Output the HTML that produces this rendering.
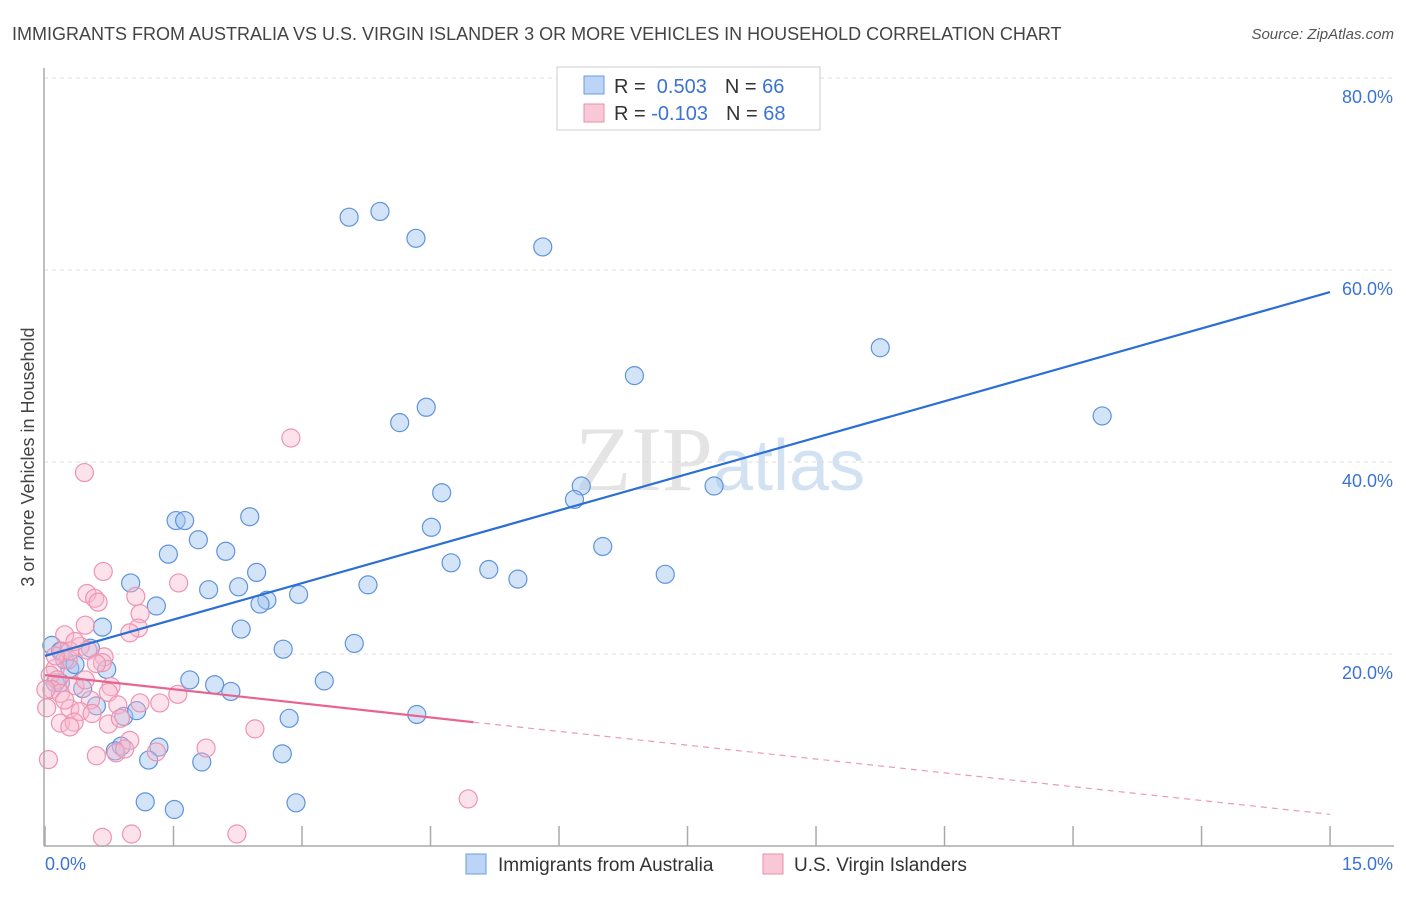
<!DOCTYPE html>
<html><head><meta charset="utf-8"><style>
body{margin:0;background:#fff;font-family:"Liberation Sans",sans-serif}
</style></head><body>
<svg id="chart" width="1406" height="892" xmlns="http://www.w3.org/2000/svg" font-family="Liberation Sans, sans-serif">
<text x="12" y="40" font-size="18" fill="#444">IMMIGRANTS FROM AUSTRALIA VS U.S. VIRGIN ISLANDER 3 OR MORE VEHICLES IN HOUSEHOLD CORRELATION CHART</text>
<text x="1394" y="39" font-size="15" fill="#555" font-style="italic" text-anchor="end">Source: ZipAtlas.com</text>
<text x="720" y="490" font-size="92" text-anchor="middle" fill="#e4e4e4" font-family="Liberation Serif, serif">ZIP<tspan fill="#d3e2f2" font-family="Liberation Sans, sans-serif" font-size="72">atlas</tspan></text>
<text transform="translate(34,457) rotate(-90)" font-size="18" fill="#444" text-anchor="middle">3 or more Vehicles in Household</text>
<g id="grid"></g><g id="pts"></g><g id="lines"></g>
<line x1="44" y1="68" x2="44" y2="846" stroke="#aaa" stroke-width="1.5"/>
<line x1="44" y1="846" x2="1394" y2="846" stroke="#aaa" stroke-width="1.5"/>
<text x="45" y="870" font-size="18" fill="#3b73d4">0.0%</text>
<text x="1393" y="870" font-size="18" fill="#3b73d4" text-anchor="end">15.0%</text>
<g>
<rect x="557" y="67" width="263" height="63" fill="#fff" stroke="#ccc"/>
<rect x="584" y="76" width="20" height="18" fill="#bcd4f5" stroke="#6e9be0"/>
<rect x="584" y="104" width="20" height="18" fill="#f9c8d6" stroke="#eb8fac"/>
<text x="614" y="93" font-size="20" fill="#333">R = <tspan fill="#3b73d4">&#160;0.503</tspan><tspan dx="18">N = </tspan><tspan fill="#3b73d4">66</tspan></text>
<text x="614" y="120" font-size="20" fill="#333">R = <tspan fill="#3b73d4">-0.103</tspan><tspan dx="18">N = </tspan><tspan fill="#3b73d4">68</tspan></text>
</g>
<g>
<rect x="466" y="854" width="20" height="20" fill="#bcd4f5" stroke="#6e9be0"/>
<text x="498" y="871" font-size="19" fill="#333">Immigrants from Australia</text>
<rect x="763" y="854" width="20" height="20" fill="#f9c8d6" stroke="#eb8fac"/>
<text x="794" y="871" font-size="19" fill="#333">U.S. Virgin Islanders</text>
</g>
</svg>
<script>
const yTicks=[20,40,60,80];
const xTicks=[0,1.5,3,4.5,6,7.5,9,10.5,12,13.5,15];
const blueX=[3.55,3.91,4.33,5.81,9.75,6.88,12.34,4.45,4.14,4.63,6.26,6.18,7.81,4.51,6.51,4.74,5.18,5.52,7.24,3.77,1.53,1.63,2.39,1.44,1.79,2.11,1.0,2.47,1.91,2.26,2.96,2.59,2.51,1.30,0.67,2.29,3.61,2.78,0.08,0.18,0.53,0.72,0.29,0.44,0.12,1.69,1.98,2.17,3.26,0.60,0.92,1.07,2.85,4.34,0.89,0.82,1.33,1.21,1.83,2.77,1.17,1.51,2.93,0.18,0.23,0.35];
const blueY=[65.5,66.1,63.3,62.4,51.9,49.0,44.8,45.7,44.1,36.8,37.5,36.1,37.5,33.2,31.2,29.5,28.8,27.8,28.3,27.2,33.9,33.9,34.3,30.4,31.9,30.7,27.4,28.5,26.7,27.0,26.2,25.6,25.2,25.0,22.8,22.6,21.1,20.5,20.9,20.3,20.6,18.4,18.5,16.4,17.0,17.3,16.8,16.1,17.2,14.6,13.5,14.1,13.3,13.7,10.4,9.9,10.3,8.95,8.75,9.6,4.6,3.8,4.5,17.0,19.4,18.9];
const pinkX=[2.87,0.46,0.68,1.56,0.49,0.58,0.62,1.06,1.11,1.09,0.99,0.23,0.47,0.41,0.50,0.69,0.67,0.60,0.20,0.27,0.12,0.06,0.14,0.08,0.35,0.77,0.74,0.18,0.53,0.85,1.11,1.34,1.55,0.02,0.29,0.41,0.55,0.18,0.34,0.29,0.74,0.88,0.99,0.83,0.93,1.30,1.88,2.45,0.60,0.04,4.94,0.67,1.01,2.24,0.29,0.12,0.35,0.01,0.23,0.47];
const pinkY=[42.5,38.9,28.6,27.4,26.3,25.8,25.4,26.0,24.2,22.7,22.2,22.0,23.0,20.8,20.4,19.7,19.1,19.0,20.3,19.4,18.5,17.8,17.3,16.3,16.7,16.6,16.0,15.9,15.2,14.7,14.9,14.9,15.8,14.4,14.3,14.0,13.8,12.8,12.9,12.4,12.7,13.3,11.0,9.7,10.1,9.8,10.2,12.2,9.4,9.0,4.9,0.9,1.25,1.25,20.3,19.8,21.3,16.3,15.2,17.3];
const blueLine=[0,19.8,15,57.7];
const pinkLine=[0,17.8,5.0,12.9,15,3.3];
const X=v=>45+v*85.67, Y=v=>846-v*9.6;
const NS='http://www.w3.org/2000/svg';
function mk(t,a,p){const e=document.createElementNS(NS,t);for(const k in a)e.setAttribute(k,a[k]);p.appendChild(e);return e;}
const grid=document.getElementById('grid');
yTicks.forEach(t=>{
 const l=mk('line',{x1:44,x2:1394,y1:Y(t),y2:Y(t),stroke:'#ddd','stroke-dasharray':'4,4'},grid);
 
 
 const tx=mk('text',{x:1393,y:Y(t)+25,'font-size':18,fill:'#3b73d4','text-anchor':'end'},grid);
 tx.textContent=t.toFixed(1)+'%';
 
 
});
mk('line',{x1:44,x2:1394,y1:78,y2:78,stroke:'#ddd','stroke-dasharray':'4,4'},grid);
xTicks.forEach(t=>{
 const l=mk('line',{x1:X(t),x2:X(t),y1:826,y2:846,stroke:'#aaa','stroke-width':1.5},grid);
 
 
});
const pts=document.getElementById('pts');
blueX.forEach((x,i)=>{
 const c=mk('circle',{cx:X(x),cy:Y(blueY[i]),r:9,fill:'rgba(160,195,240,0.45)',stroke:'#5f93dc','stroke-width':1.2},pts);
 
 
});
pinkX.forEach((x,i)=>{
 const c=mk('circle',{cx:X(x),cy:Y(pinkY[i]),r:9,fill:'rgba(248,185,205,0.4)',stroke:'#ee93b0','stroke-width':1.2},pts);
 
 
});
const lines=document.getElementById('lines');
const bl=mk('line',{x1:X(blueLine[0]),y1:Y(blueLine[1]),x2:X(blueLine[2]),y2:Y(blueLine[3]),stroke:'#2b6fd6','stroke-width':2.2},lines);


const pl=mk('line',{x1:X(pinkLine[0]),y1:Y(pinkLine[1]),x2:X(pinkLine[2]),y2:Y(pinkLine[3]),stroke:'#e8638d','stroke-width':2.2},lines);


const pd=mk('line',{x1:X(pinkLine[2]),y1:Y(pinkLine[3]),x2:X(pinkLine[4]),y2:Y(pinkLine[5]),stroke:'#eb9ab4','stroke-width':1.2,'stroke-dasharray':'6,5'},lines);


</script>
</body></html>
